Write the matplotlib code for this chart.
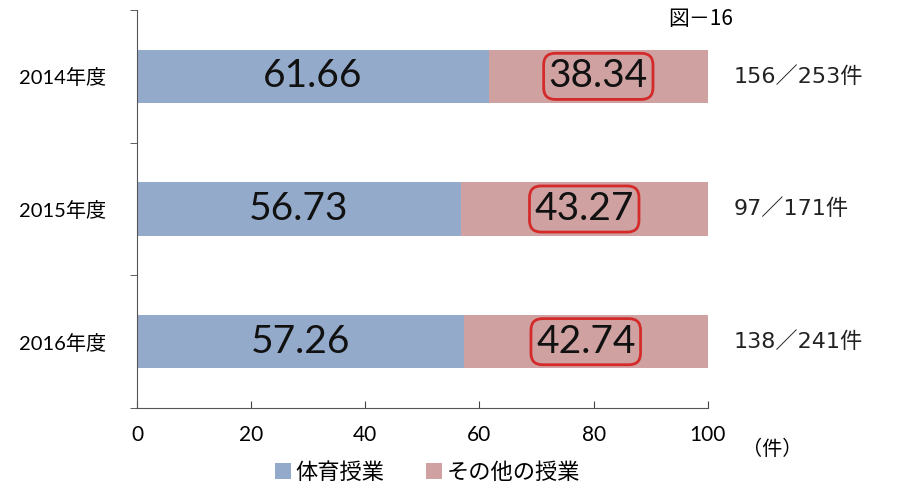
import matplotlib.pyplot as plt

# data
years = ['2014年度', '2015年度', '2016年度']
pe_share = [61.66, 56.73, 57.26]
other_share = [38.34, 43.27, 42.74]
counts = ['156／253件', '97／171件', '138／241件']
xticks = [0, 20, 40, 60, 80, 100]

blue = '#94aacb'
pink = '#cfa1a1'
jp = ['Noto Sans CJK JP', 'DejaVu Sans']
num = ['Lato', 'Noto Sans CJK JP']
wide = ['DejaVu Sans', 'Noto Sans CJK JP']

plt.rcParams['font.family'] = jp

fig = plt.figure(figsize=(8.98, 4.91), dpi=100)
ax = fig.add_axes([0.1526, 0.169, 0.6355, 0.8106])

ypos = list(range(len(years)))
ax.barh(ypos, pe_share, height=0.4, color=blue, label='体育授業')
ax.barh(ypos, other_share, left=pe_share, height=0.4, color=pink, label='その他の授業')

for i in ypos:
    ax.text(pe_share[i] / 2, i, f'{pe_share[i]:.2f}', ha='center', va='center',
            fontsize=28, family=num, color='#111111')
    ax.text(pe_share[i] + other_share[i] / 2, i, f'{other_share[i]:.2f}', ha='center',
            va='center', fontsize=28, family=num, color='#111111',
            bbox=dict(boxstyle='round,pad=0.13,rounding_size=0.3', fc='none',
                      ec='#d42a2a', lw=2))
    ax.text(104.5, i, counts[i], ha='left', va='center', fontsize=16,
            family=wide, color='#222222')

ax.set_xlim(0, 100)
ax.set_ylim(2.5, -0.5)
ax.set_xticks(xticks)
ax.set_xticklabels([str(t) for t in xticks], family=num, fontsize=15)
ax.set_yticks(ypos)
ax.set_yticklabels(years, family=num, fontsize=14.5)
ax.set_yticks([-0.5, 0.5, 1.5, 2.5], minor=True)
ax.tick_params(axis='y', which='major', length=0, pad=22)
ax.tick_params(axis='y', which='minor', length=5, direction='out', color='#444444')
ax.tick_params(axis='x', length=5, direction='in', color='#444444', pad=12)
for s in ['top', 'right']:
    ax.spines[s].set_visible(False)
for s in ['left', 'bottom']:
    ax.spines[s].set_color('#555555')

fig.text(0.826, 0.085, '（件）', fontsize=14.5, family=jp, ha='left', va='center')
fig.text(0.744, 0.962, '図－16', fontsize=15, family=jp, ha='left', va='center')

ax.legend(loc='center', bbox_to_anchor=(0.476, 0.038), bbox_transform=fig.transFigure,
          ncol=2, frameon=False, handlelength=0.7, handleheight=0.7,
          handletextpad=0.2, columnspacing=1.9, prop={'family': jp, 'size': 16})

plt.savefig('out.png', dpi=100)
